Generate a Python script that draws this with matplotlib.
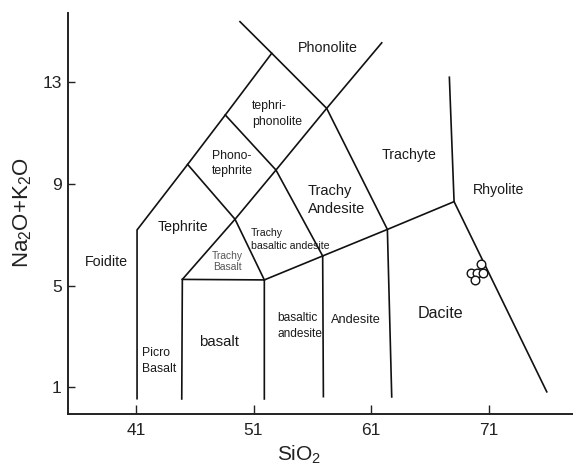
import matplotlib
matplotlib.use("Agg")
import matplotlib.pyplot as plt

plt.rcParams['font.family'] = ['Liberation Sans', 'DejaVu Sans']
plt.rcParams['mathtext.fontset'] = 'custom'
plt.rcParams['mathtext.rm'] = 'Liberation Sans'
plt.rcParams['mathtext.it'] = 'Liberation Sans:italic'
plt.rcParams['mathtext.bf'] = 'Liberation Sans:bold'

# ---- data (SiO2 wt%, Na2O+K2O wt%) ----
x_ticks = [41, 51, 61, 71]
y_ticks = [1, 5, 9, 13]

# field boundary polylines
outer_x = [41.1, 41.1, 45.4, 48.6, 52.55]
outer_y = [0.56, 7.18, 9.75, 11.69, 14.11]

phonolite_x = [49.85, 52.55, 57.22, 62.38, 62.75]
phonolite_y = [15.35, 14.11, 11.95, 7.20, 0.63]

ascend_x = [61.9, 57.22, 52.91, 49.43, 44.95]
ascend_y = [14.52, 11.95, 9.53, 7.60, 5.24]

tephrite_x = [45.4, 49.43, 51.92]
tephrite_y = [9.75, 7.60, 5.22]

phonotephrite_x = [48.6, 52.91, 56.88]
phonotephrite_y = [11.69, 9.53, 6.16]

basalt_x = [44.9, 44.95, 51.92, 51.92]
basalt_y = [0.55, 5.24, 5.22, 0.55]

trachy_base_x = [51.92, 56.88, 62.38, 68.05]
trachy_base_y = [5.22, 6.16, 7.20, 8.29]

andesite_x = [56.88, 56.94]
andesite_y = [6.16, 0.64]

rhyolite_x = [67.65, 68.05, 75.93]
rhyolite_y = [13.17, 8.29, 0.83]

# samples
sample_x = [70.3, 69.5, 70.0, 70.5, 69.8]
sample_y = [5.85, 5.5, 5.5, 5.5, 5.2]

# field names
field_names = ["Phonolite", "tephri-\nphonolite", "Phono-\ntephrite", "Tephrite",
               "Trachy\nAndesite", "Trachyte", "Rhyolite",
               "Trachy\nbasaltic andesite", "Trachy\nBasalt", "Foidite",
               "Picro\nBasalt", "basalt", "basaltic\nandesite", "Andesite", "Dacite"]
name_x = [57.34, 50.87, 47.47, 44.97, 55.63, 64.22, 71.79, 50.79, 48.75, 38.5,
          41.52, 48.03, 53.0, 59.71, 66.9]
name_y = [14.33, 11.73, 9.77, 7.29, 8.35, 10.12, 8.75, 6.80, 5.94, 5.94,
          2.04, 2.78, 3.41, 3.65, 3.9]

# ---- styles ----
name_style = [
    dict(fontsize=10.3, ha='center'),
    dict(fontsize=8.8, ha='left', linespacing=1.45),
    dict(fontsize=8.8, ha='left', linespacing=1.35),
    dict(fontsize=10.2, ha='center'),
    dict(fontsize=10.5, ha='left', linespacing=1.3),
    dict(fontsize=10.2, ha='center'),
    dict(fontsize=10.2, ha='center'),
    dict(fontsize=7.6, ha='left', linespacing=1.3, family=['Liberation Sans Narrow', 'Liberation Sans']),
    dict(fontsize=7.4, ha='center', color='#555555', linespacing=1.2),
    dict(fontsize=10.3, ha='center'),
    dict(fontsize=8.8, ha='left', linespacing=1.35),
    dict(fontsize=10.8, ha='center'),
    dict(fontsize=8.6, ha='left', linespacing=1.4, family=['Liberation Sans Narrow', 'Liberation Sans']),
    dict(fontsize=9.2, ha='center'),
    dict(fontsize=11.6, ha='center'),
]

fig = plt.figure(figsize=(5.73, 4.72), dpi=100)
ax = fig.add_axes([68 / 573, 58 / 472, 1 - 68 / 573, (414 - 13) / 472])

lw = 1.2
for xs, ys in [(outer_x, outer_y), (phonolite_x, phonolite_y), (ascend_x, ascend_y),
               (tephrite_x, tephrite_y), (phonotephrite_x, phonotephrite_y),
               (basalt_x, basalt_y), (trachy_base_x, trachy_base_y),
               (andesite_x, andesite_y), (rhyolite_x, rhyolite_y)]:
    ax.plot(xs, ys, color='#111111', lw=lw, solid_joinstyle='miter')

ax.plot(sample_x, sample_y, 'o', ms=6.2, mfc='white', mec='#111111', mew=1.0, zorder=5)

for name, tx, ty, st in zip(field_names, name_x, name_y, name_style):
    kw = dict(va='center', color='#1a1a1a')
    kw.update(st)
    ax.text(tx, ty, name, **kw)

ax.set_xlim(35.23, 78.16)
ax.set_ylim(-0.04, 15.69)
ax.set_xticks(x_ticks)
ax.set_yticks(y_ticks)
ax.set_xticklabels([str(v) for v in x_ticks])
ax.set_yticklabels([str(v) for v in y_ticks])

for side in ['top', 'right']:
    ax.spines[side].set_visible(False)
for side in ['left', 'bottom']:
    ax.spines[side].set_linewidth(1.4)
    ax.spines[side].set_color('#222222')

ax.tick_params(axis='x', direction='in', length=6.5, width=1.0, pad=6.5,
               labelsize=12.5, colors='#222222')
ax.tick_params(axis='y', direction='in', length=5, width=1.0, pad=4.5,
               labelsize=12.5, colors='#222222')

ax.set_xlabel(r'SiO$_\mathregular{2}$', fontsize=15, color='#222222', va='center')
ax.xaxis.set_label_coords((299 - 68) / 505, (414 - 455) / 401)
ax.set_ylabel(r'Na$_\mathregular{2}$O+K$_\mathregular{2}$O', fontsize=16, color='#222222',
              va='center')
ax.yaxis.set_label_coords((23 - 68) / 505, (414 - 213) / 401)

fig.savefig('out.png', dpi=100)
